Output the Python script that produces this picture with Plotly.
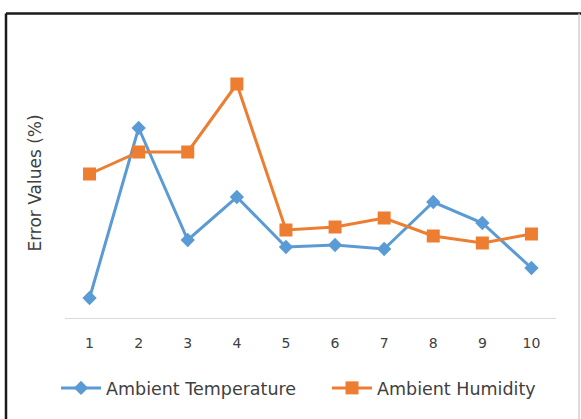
import plotly.graph_objects as go

# Test cases 1..10 and the error percentage for each sensor input
cases = ["1", "2", "3", "4", "5", "6", "7", "8", "9", "10"]
ambient_temperature = [2.0, 19.0, 7.8, 12.1, 7.1, 7.3, 6.9, 11.6, 9.5, 5.0]
ambient_humidity = [14.4, 16.6, 16.6, 23.4, 8.8, 9.1, 10.0, 8.2, 7.5, 8.4]

BLUE = "#5B9BD5"
ORANGE = "#ED7D31"
TEXT = "#404040"
FONT = "DejaVu Sans"

fig = go.Figure()
fig.add_trace(go.Scatter(
    x=cases, y=ambient_temperature, name="Ambient Temperature",
    mode="lines+markers", legend="legend",
    line=dict(color=BLUE, width=3),
    marker=dict(symbol="diamond", size=11, color=BLUE),
))
fig.add_trace(go.Scatter(
    x=cases, y=ambient_humidity, name="Ambient Humidity",
    mode="lines+markers", legend="legend2",
    line=dict(color=ORANGE, width=3),
    marker=dict(symbol="square", size=13, color=ORANGE),
))

# chart frame: dark top/left edges, light right edge (plot area 65..556 px wide, 48..318 px tall)
PW, PH = 491.0, 270.0
def px_x(v):
    return (v - 65) / PW
def px_y(v):
    return (318 - v) / PH

frame = [
    dict(x0=px_x(6), x1=px_x(581), y0=px_y(13.5), y1=px_y(13.5), color="#1a1a1a", width=2.5),
    dict(x0=px_x(6), x1=px_x(6), y0=px_y(13.5), y1=px_y(440), color="#1a1a1a", width=2.5),
    dict(x0=px_x(579), x1=px_x(579), y0=px_y(13.5), y1=px_y(440), color="#D0D0D0", width=1.5),
]
shapes = [
    dict(type="line", xref="paper", yref="paper",
         x0=f["x0"], x1=f["x1"], y0=f["y0"], y1=f["y1"],
         line=dict(color=f["color"], width=f["width"]))
    for f in frame
]

legend_style = dict(
    orientation="h", xanchor="left", yanchor="middle", y=px_y(388),
    font=dict(family=FONT, size=17.5, color=TEXT),
    itemwidth=40, bgcolor="rgba(0,0,0,0)",
)

fig.update_layout(
    width=581, height=419,
    margin=dict(l=65, r=25, t=48, b=101),
    paper_bgcolor="white", plot_bgcolor="white",
    font=dict(family=FONT, color=TEXT, size=14),
    showlegend=True,
    legend=dict(x=px_x(56), **legend_style),
    legend2=dict(x=px_x(327), **legend_style),
    shapes=shapes,
    xaxis=dict(
        type="category", range=[-0.5, 9.5],
        showgrid=False, zeroline=False,
        showline=True, linecolor="#D9D9D9", linewidth=1,
        ticks="", tickfont=dict(family=FONT, size=14, color=TEXT),
        ticklabelstandoff=12,
    ),
    yaxis=dict(
        range=[0, 27], showgrid=False, zeroline=False, showline=False,
        showticklabels=False, ticks="",
        title=dict(text="Error Values (%)", standoff=18,
                   font=dict(family=FONT, size=17, color=TEXT)),
    ),
)

fig.write_html("out.html")
